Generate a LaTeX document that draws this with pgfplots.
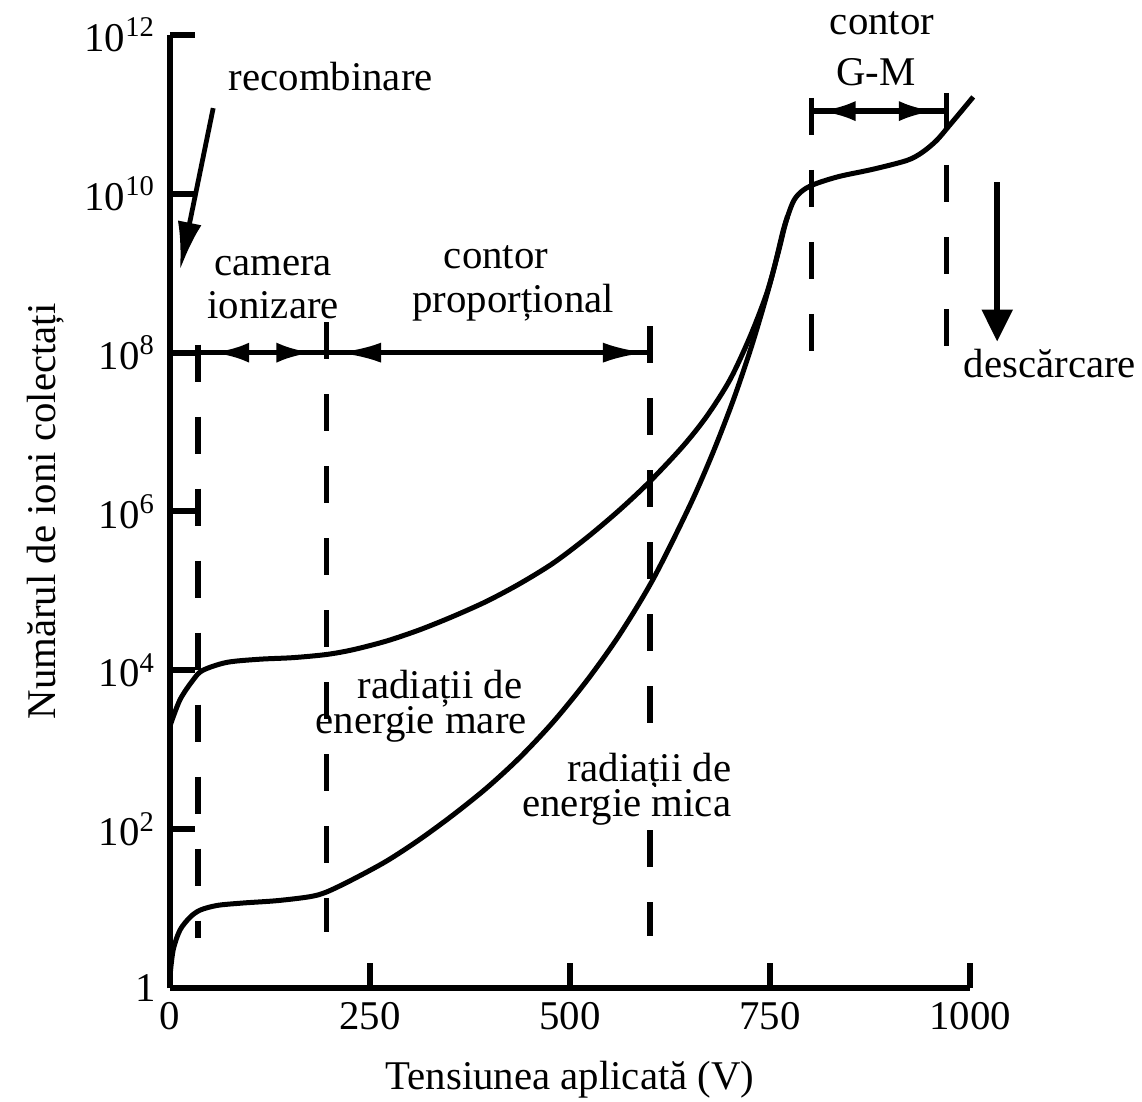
\documentclass[border=0pt]{standalone}
\usepackage{fontspec}
\setmainfont{Liberation Serif}
\usepackage{pgfplots}
\pgfplotsset{compat=1.18}
\usetikzlibrary{arrows.meta}
\begin{document}
\begin{tikzpicture}[font=\fontsize{10.2}{12}\selectfont]
\begin{axis}[
  at={(0,0)}, anchor=south west,
  scale only axis, width=200pt, height=238.25pt,
  xmin=0, xmax=1000, ymode=log, ymin=1, ymax=1e12,
  axis lines=left, axis line style={-, line width=1.5pt},
  xtick={0,250,500,750,1000}, xticklabels={0,250,500,750,1000},
  ytick={1,1e2,1e4,1e6,1e8,1e10,1e12},
  yticklabels={1,10\textsuperscript{2},10\textsuperscript{4},10\textsuperscript{6},10\textsuperscript{8},10\textsuperscript{10},10\textsuperscript{12}},
  yminorticks=false, xminorticks=false,
  tick style={line width=1.5pt, black},
  major tick length=6.25pt,
  tick align=inside,
  clip=false,
  xlabel={Tensiunea aplicată (V)},
  ylabel={Numărul de ioni colectați},
  xlabel style={at={(axis description cs:0.5,-0.107)}, anchor=base},
  ylabel style={at={(axis description cs:-0.156,0.5)}, anchor=center},
]
% high-energy radiation curve
\addplot[line width=1.25pt, smooth, tension=0.5] coordinates {
(0,1995) (12.5,4266) (29,7586) (41,1.0e4) (71,1.259e4) (112,1.380e4)
(154,1.445e4) (196,1.585e4) (229,1.820e4) (271,2.344e4) (312,3.236e4)
(354,4.786e4) (396,7.413e4) (437,1.230e5) (479,2.239e5) (521,4.677e5)
(562,1.047e6) (600,2.399e6) (641,6.607e6) (671,1.585e7) (700,4.571e7)
(725,1.585e8) (746,5.623e8) (760,1.778e9) (770,4.467e9) (780,8.318e9)
(792,1.122e10) (808,1.349e10) (837,1.660e10) (879,2.042e10) (921,2.630e10)
(940,3.311e10) (958,4.677e10) (975,7.413e10) (990,1.122e11) (1004,1.660e11)
};
% low-energy radiation curve
\addplot[line width=1.25pt, smooth, tension=0.5] coordinates {
(0,1.413) (4,3.020) (12.5,5.370) (25,7.762) (37.5,9.550) (59,10.96)
(91,11.75) (134,12.59) (175,14.13) (196,16.22) (229,23.44) (271,39.81)
(312,74.13) (354,151.4) (396,331.1) (437,794.3) (479,2239) (521,7413)
(562,2.818e4) (604,1.413e5) (650,1.202e6) (679,5.623e6) (704,2.512e7)
(725,1.047e8) (741,3.548e8) (754,1.047e9) (766,3.311e9) (772,5.248e9)
};
% dashed region boundaries
\draw[line width=1.3pt, dash pattern=on 9.25pt off 8.75pt] (axis cs:35,1.26e8) -- (axis cs:35,4.22);
\draw[line width=1.3pt, dash pattern=on 9.25pt off 8.75pt] (axis cs:196,2.4e8) -- (axis cs:196,5.1);
\draw[line width=1.3pt, dash pattern=on 9.25pt off 8.75pt] (axis cs:600,2.14e8) -- (axis cs:600,4.57);
\draw[line width=1.3pt, dash pattern=on 9.25pt off 8.75pt] (axis cs:802,1.62e11) -- (axis cs:802,9.3e7);
\draw[line width=1.3pt, dash pattern=on 9.25pt off 8.75pt] (axis cs:971,1.86e11) -- (axis cs:971,1.1e8);
% dimension lines
\draw[line width=1.4pt] (axis cs:0,1e8) -- (axis cs:600,1e8);
\draw[line width=1.4pt] (axis cs:802,1.1e11) -- (axis cs:971,1.1e11);
\draw[line width=1.4pt, -{Latex[length=9pt,width=5pt]}] (axis cs:100,1e8) -- (axis cs:54,1e8);
\draw[line width=1.4pt, -{Latex[length=9pt,width=5pt]}] (axis cs:125,1e8) -- (axis cs:178,1e8);
\draw[line width=1.4pt, -{Latex[length=11pt,width=5pt]}] (axis cs:270,1e8) -- (axis cs:209,1e8);
\draw[line width=1.4pt, -{Latex[length=11pt,width=5pt]}] (axis cs:530,1e8) -- (axis cs:596,1e8);
\draw[line width=1.4pt, -{Latex[length=9pt,width=5pt]}] (axis cs:870,1.1e11) -- (axis cs:812,1.1e11);
\draw[line width=1.4pt, -{Latex[length=9pt,width=5pt]}] (axis cs:900,1.1e11) -- (axis cs:956,1.1e11);
% recombination and discharge arrows
\draw[line width=1.2pt, -{Latex[length=12pt,width=6pt]}] (axis cs:54,1.2e11) -- (axis cs:12.5,1.1e9);
\draw[line width=1.4pt, -{Triangle[length=8pt,width=7.5pt]}] (axis cs:1034,1.4e10) -- (axis cs:1034,1.38e8);
% annotations
\node[anchor=base] at (axis cs:201,2.0e11) {recombinare};
\node[anchor=base] at (axis cs:129,9.3e8) {camera};
\node[anchor=base] at (axis cs:129,2.7e8) {ionizare};
\node[anchor=base] at (axis cs:407.5,1.15e9) {contor};
\node[anchor=base] at (axis cs:429,3.2e8) {proporțional};
\node[anchor=base] at (axis cs:890,1e12) {contor};
\node[anchor=base] at (axis cs:882.5,2.3e11) {G-M};
\node[anchor=base] at (axis cs:1100,4.8e7) {descărcare};
\node[anchor=base] at (axis cs:337.5,4365) {radiații de};
\node[anchor=base] at (axis cs:314,1585) {energie mare};
\node[anchor=base, fill=white, inner sep=0.5pt] at (axis cs:599,398) {radiații de};
\node[anchor=base, fill=white, inner sep=0.5pt] at (axis cs:571,145) {energie mica};
\end{axis}
\pgfresetboundingbox
\path (-42.5pt,-28.25pt) rectangle (243pt,247pt);
\end{tikzpicture}
\end{document}
